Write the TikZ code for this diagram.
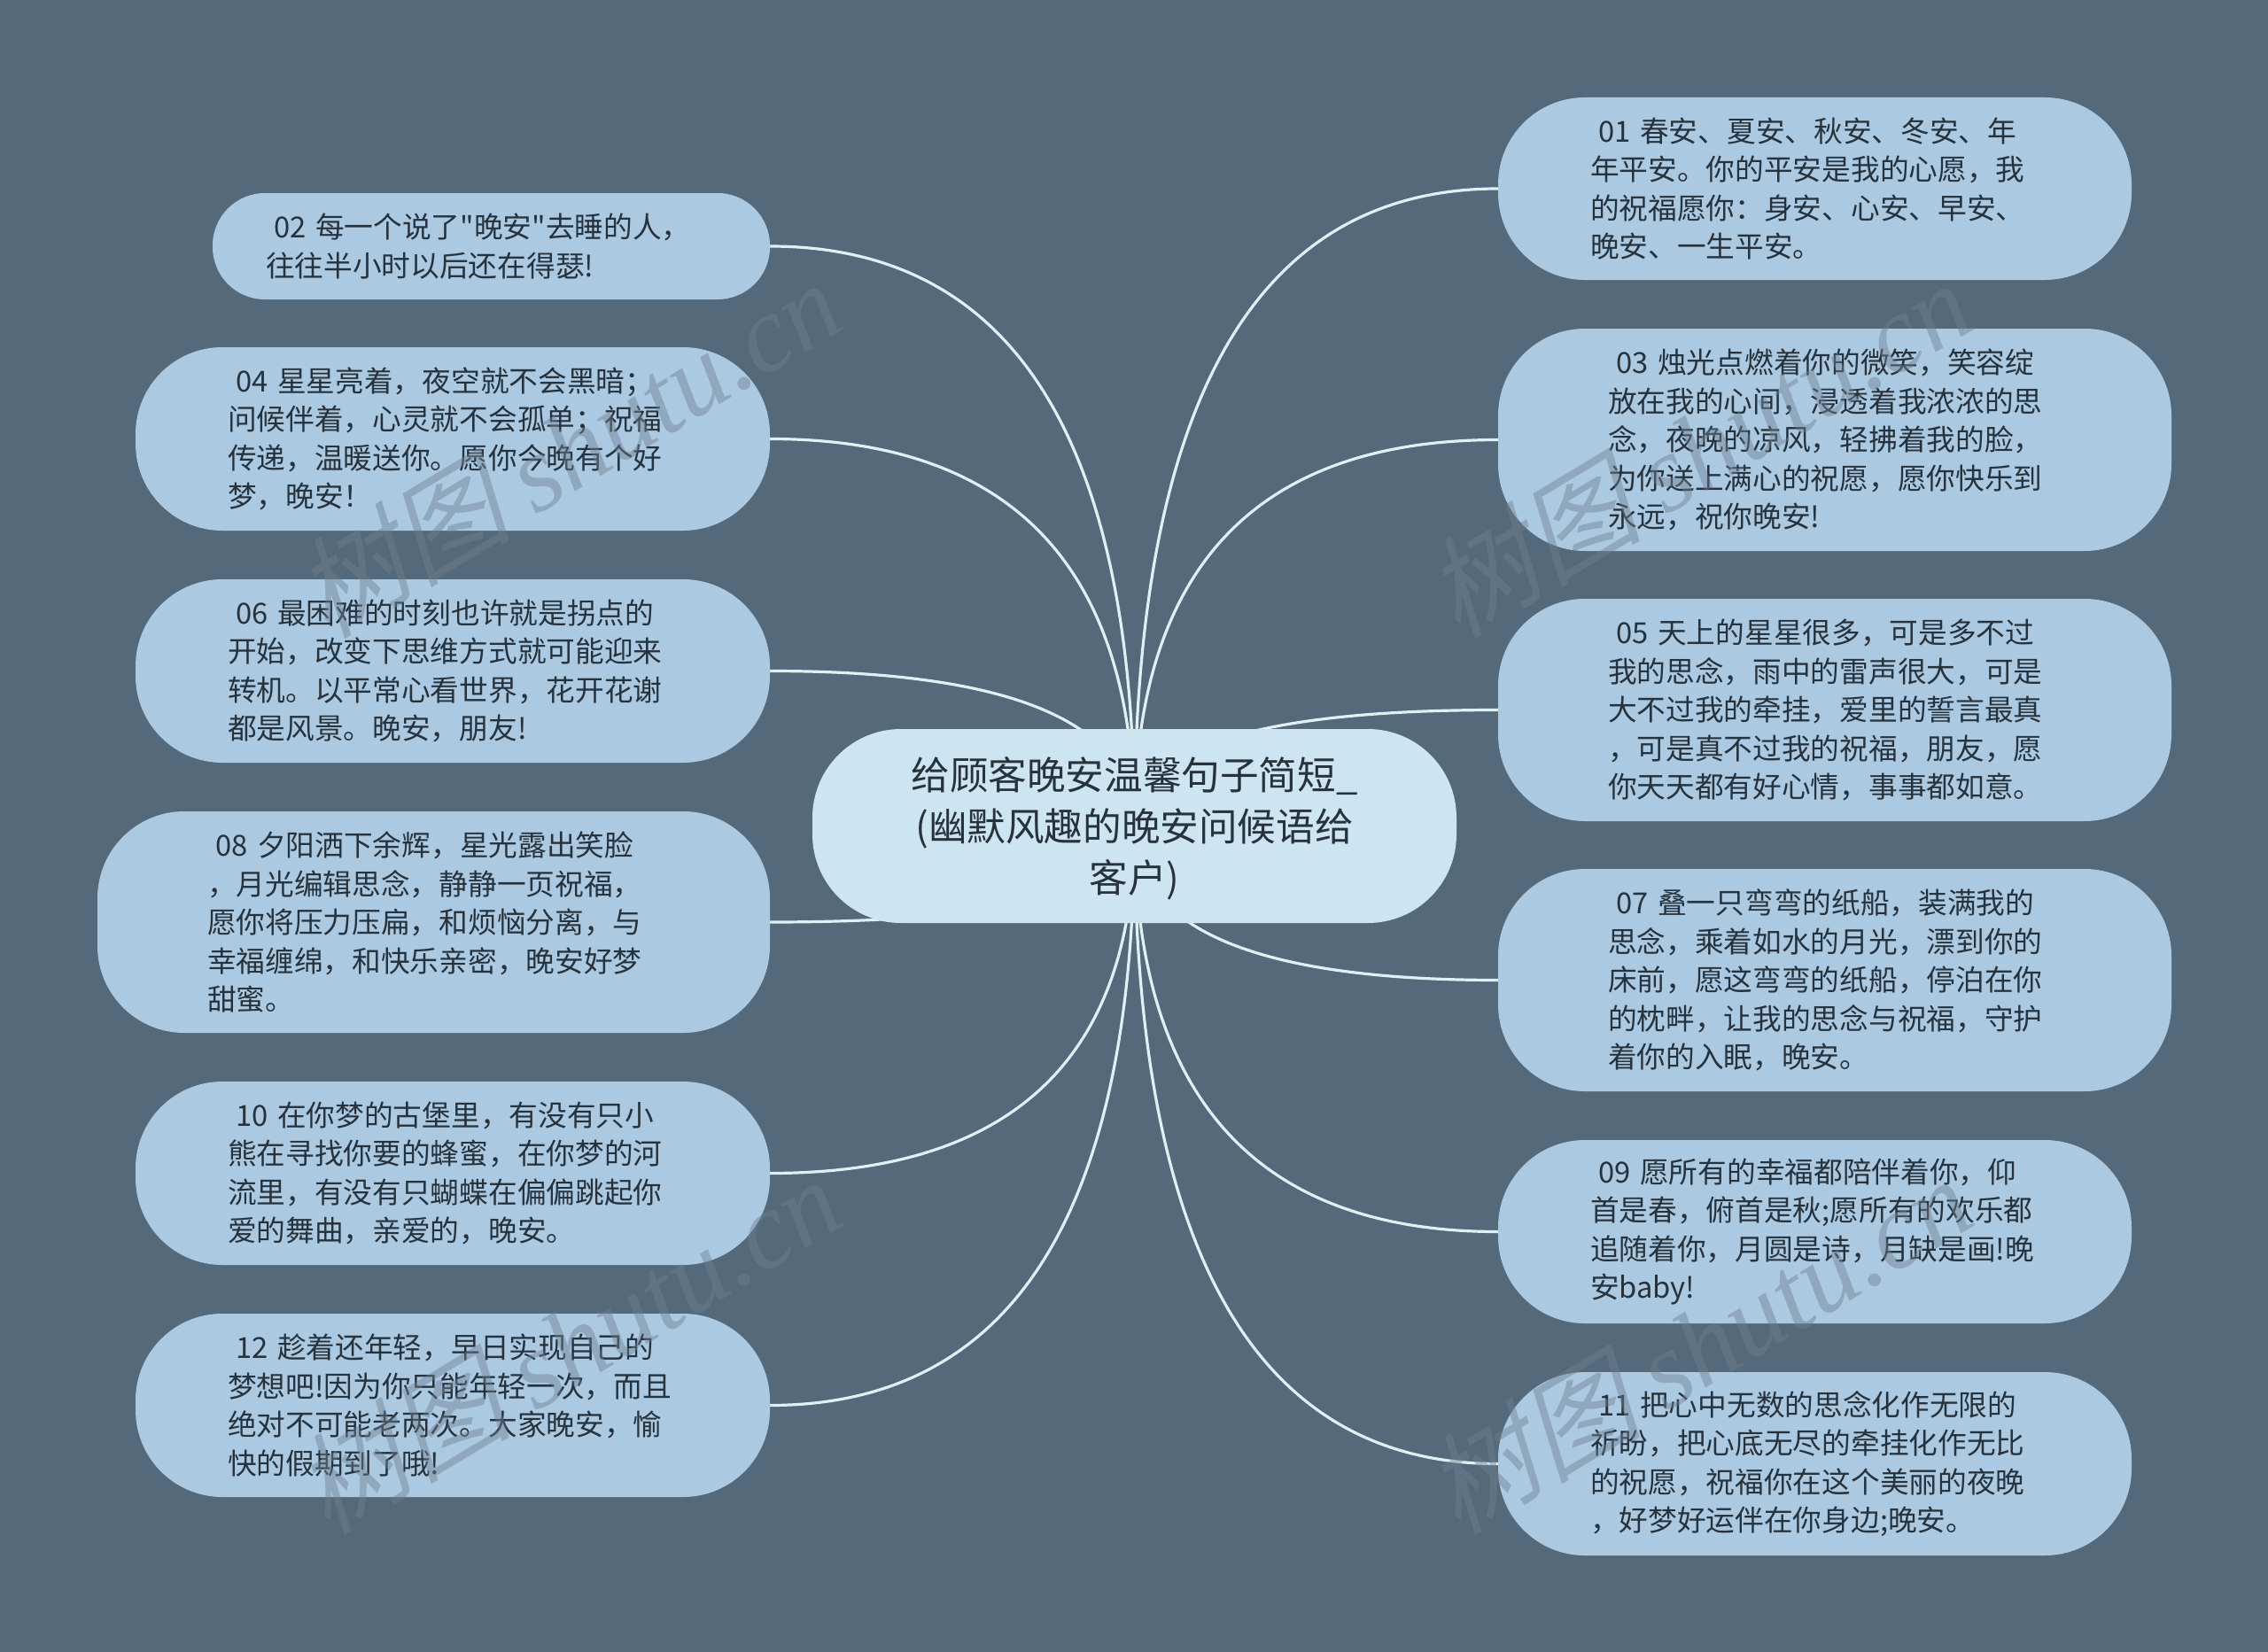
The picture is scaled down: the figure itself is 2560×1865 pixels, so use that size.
\documentclass[tikz,border=0pt]{standalone}
\usepackage{fontspec}
\usetikzlibrary{calc,backgrounds}
\setmainfont{Noto Sans CJK SC}
\newfontfamily\plainq{Noto Sans CJK SC}
\newfontfamily\wmcjk[FakeSlant=0.25]{Noto Sans CJK SC}
\newfontfamily\wmlat{Liberation Serif}[ItalicFont=* Italic]
\definecolor{bgc}{HTML}{546A7A}
\definecolor{leafc}{HTML}{ABCAE2}
\definecolor{rootc}{HTML}{CDE4F2}
\definecolor{linkc}{HTML}{DFF0F7}
\definecolor{txtc}{HTML}{26323C}
\definecolor{wmc}{HTML}{708090}
\tikzset{
  x=1pt,y=-1pt,
  leaf/.style n args={3}{draw=none,fill=leafc,text=txtc,rounded corners=#1,minimum height=#2,
    minimum width=#3,inner ysep=0pt,align=left,
    font=\fontsize{32.7}{43.5}\selectfont},
  rootbox/.style={draw=none,fill=rootc,text=txtc,rounded corners=100pt,minimum width=727pt,minimum height=219pt,
    inner sep=0pt,align=center,font=\fontsize{43.6}{58}\selectfont},
  link/.style={draw=linkc,line width=3.2pt},
  wm/.style={text=wmc,opacity=0.45,rotate=31,inner sep=0pt,font=\fontsize{123}{123}\selectfont},
}
\newcommand{\lf}[7]{% name, left, right, top, bottom, pad, text
  \pgfmathsetmacro{\cxx}{(#2+#3)/2}\pgfmathsetmacro{\cyy}{(#4+#5)/2}
  \pgfmathsetmacro{\ww}{#3-#2}\pgfmathsetmacro{\hh}{#5-#4}
  \pgfmathsetmacro{\rr}{min(\hh/2-1,98)}
  \pgfmathsetmacro{\tw}{\ww-2*#6}
  \node[leaf={\rr pt}{\hh pt}{\ww pt},inner xsep=#6pt,text width=\tw pt] (#1) at (\cxx,\cyy) {#7};
}
\newcommand{\lk}[2]{%
  \draw[link] (#1.#2) .. controls ($(#1.#2)!0.6667!(root.center |- #1.#2)$) and ($(root.center)!0.6667!(root.center |- #1.#2)$) .. (root.center);
}
\newcommand{\ind}{\hspace*{9pt}}
\newcommand{\dq}{{\plainq "}}
\newcommand{\wmark}[2]{\node[wm] (#1) at (#2) {{\wmcjk 树图} {\wmlat\itshape shutu.cn}};}
\begin{document}
\begin{tikzpicture}
\useasboundingbox (0,0) rectangle (2560,1865);
\node[rootbox] (root) at (1280.5,932.5) {\rule{0pt}{42pt}给顾客晚安温馨句子简短\_\\(幽默风趣的晚安问候语给\\客户)};
\lf{n02}{240}{869}{218}{338}{60}{\ind 02 每一个说了\dq 晚安\dq 去睡的人，\\往往半小时以后还在得瑟!}
\lf{n04}{153}{869}{392}{599}{104}{\ind 04 星星亮着，夜空就不会黑暗；\\问候伴着，心灵就不会孤单；祝福\\传递，温暖送你。愿你今晚有个好\\梦，晚安！}
\lf{n06}{153}{869}{654}{861}{104}{\ind 06 最困难的时刻也许就是拐点的\\开始，改变下思维方式就可能迎来\\转机。以平常心看世界，花开花谢\\都是风景。晚安，朋友!}
\lf{n08}{110}{869}{916}{1166}{124}{\ind 08 夕阳洒下余辉，星光露出笑脸\\，月光编辑思念，静静一页祝福，\\愿你将压力压扁，和烦恼分离，与\\幸福缠绵，和快乐亲密，晚安好梦\\甜蜜。}
\lf{n10}{153}{869}{1221}{1428}{104}{\ind 10 在你梦的古堡里，有没有只小\\熊在寻找你要的蜂蜜，在你梦的河\\流里，有没有只蝴蝶在偏偏跳起你\\爱的舞曲，亲爱的，晚安。}
\lf{n12}{153}{869}{1483}{1690}{104}{\ind 12 趁着还年轻，早日实现自己的\\梦想吧!因为你只能年轻一次，而且\\绝对不可能老两次。大家晚安，愉\\快的假期到了哦!}
\lf{n01}{1691}{2406}{110}{316}{104}{\ind 01 春安、夏安、秋安、冬安、年\\年平安。你的平安是我的心愿，我\\的祝福愿你：身安、心安、早安、\\晚安、一生平安。}
\lf{n03}{1691}{2451}{371}{622}{124}{\ind 03 烛光点燃着你的微笑，笑容绽\\放在我的心间，浸透着我浓浓的思\\念，夜晚的凉风，轻拂着我的脸，\\为你送上满心的祝愿，愿你快乐到\\永远，祝你晚安!}
\lf{n05}{1691}{2451}{676}{927}{124}{\ind 05 天上的星星很多，可是多不过\\我的思念，雨中的雷声很大，可是\\大不过我的牵挂，爱里的誓言最真\\，可是真不过我的祝福，朋友，愿\\你天天都有好心情，事事都如意。}
\lf{n07}{1691}{2451}{981}{1232}{124}{\ind 07 叠一只弯弯的纸船，装满我的\\思念，乘着如水的月光，漂到你的\\床前，愿这弯弯的纸船，停泊在你\\的枕畔，让我的思念与祝福，守护\\着你的入眠，晚安。}
\lf{n09}{1691}{2406}{1287}{1494}{104}{\ind 09 愿所有的幸福都陪伴着你，仰\\首是春，俯首是秋;愿所有的欢乐都\\追随着你，月圆是诗，月缺是画!晚\\安baby!}
\lf{n11}{1691}{2406}{1549}{1756}{104}{\ind 11 把心中无数的思念化作无限的\\祈盼，把心底无尽的牵挂化作无比\\的祝愿，祝福你在这个美丽的夜晚\\，好梦好运伴在你身边;晚安。}
\begin{scope}[on background layer]
\fill[bgc] (0,0) rectangle (2560,1865);
\foreach \n in {n02,n04,n06,n08,n10,n12}{\lk{\n}{east}}
\foreach \n in {n01,n03,n05,n07,n09,n11}{\lk{\n}{west}}
\end{scope}
\wmark{w1}{640,506}
\wmark{w2}{1916,506}
\wmark{w3}{640,1518}
\wmark{w4}{1916,1518}
\end{tikzpicture}
\end{document}
